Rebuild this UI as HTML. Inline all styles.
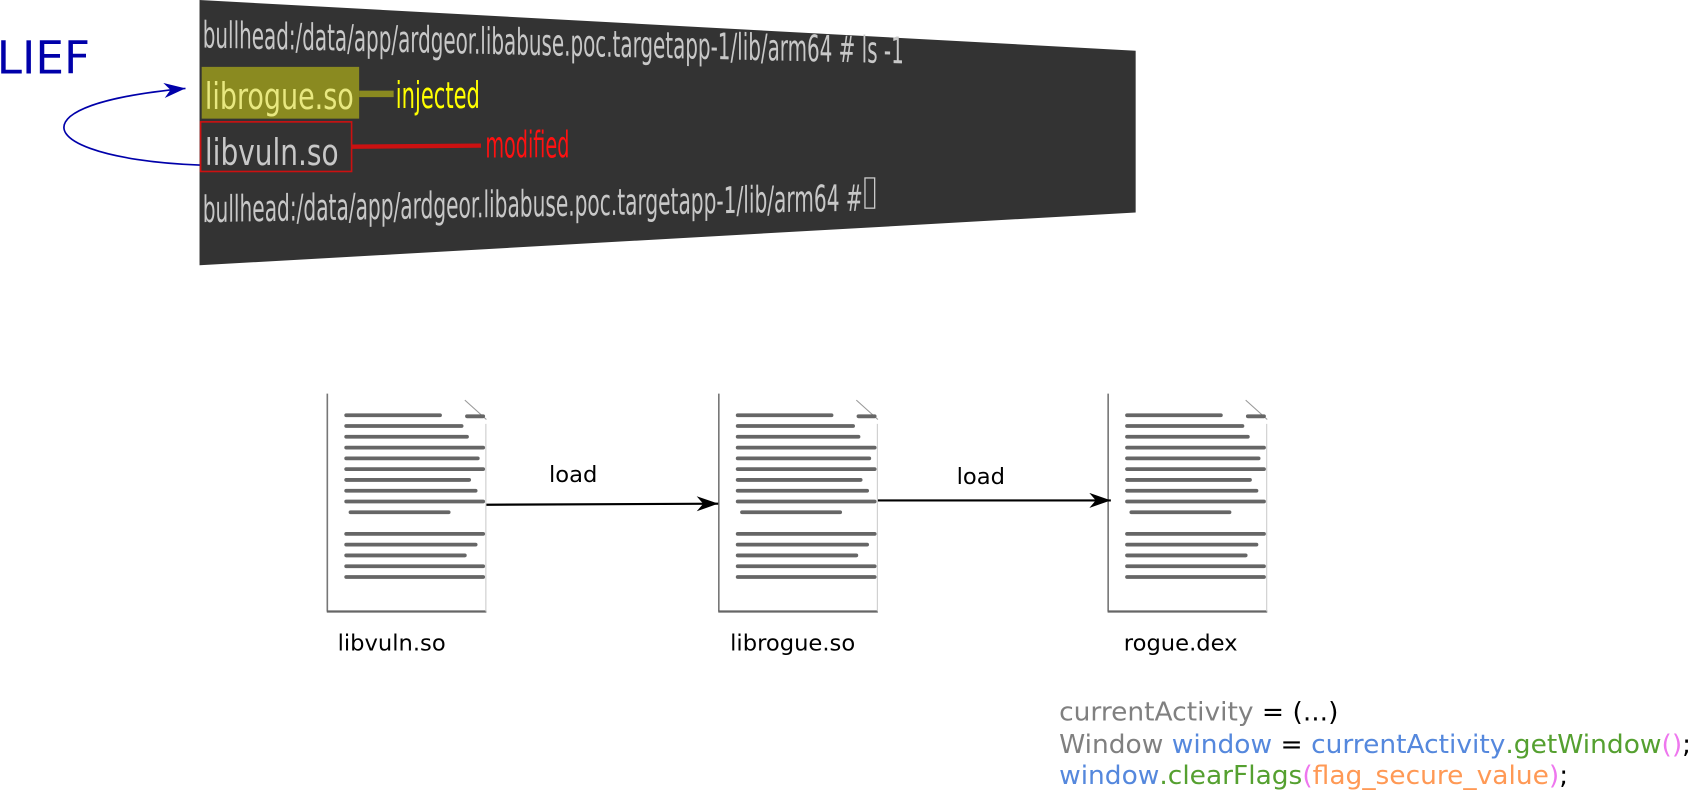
<!DOCTYPE html>
<html><head><meta charset="utf-8"><style>
html,body{margin:0;padding:0;background:#fff;width:1691px;height:795px;overflow:hidden}
</style></head><body>
<svg width="1691" height="795" viewBox="0 0 1691 795" xmlns="http://www.w3.org/2000/svg" font-family="DejaVu Sans, Liberation Sans, sans-serif">
<defs>
<g id="doc">
  <path d="M0,0 H120 L148,28 V202 H0 Z" fill="#fff"/>
  <line x1="0.5" y1="0" x2="0.5" y2="202" stroke="#777" stroke-width="1.5"/>
  <line x1="0" y1="202" x2="148" y2="202" stroke="#666" stroke-width="2"/>
  <line x1="147.5" y1="28" x2="147.5" y2="202" stroke="#ccc" stroke-width="1"/>
  <line x1="128" y1="6" x2="148" y2="24" stroke="#999" stroke-width="1"/>
  <g stroke="#666" stroke-width="3.5" stroke-linecap="round">
    <line x1="18" y1="20" x2="105" y2="20"/><line x1="130" y1="21" x2="145" y2="21"/>
    <line x1="18" y1="30" x2="125" y2="30"/>
    <line x1="18" y1="40" x2="130" y2="40"/>
    <line x1="18" y1="50" x2="145" y2="50"/>
    <line x1="18" y1="60" x2="140" y2="60"/>
    <line x1="18" y1="70" x2="145" y2="70"/>
    <line x1="18" y1="80" x2="132" y2="80"/>
    <line x1="18" y1="90" x2="138" y2="90"/>
    <line x1="18" y1="100" x2="145" y2="100"/>
    <line x1="22" y1="110" x2="113" y2="110"/>
    <line x1="18" y1="130" x2="145" y2="130"/>
    <line x1="18" y1="140" x2="138" y2="140"/>
    <line x1="18" y1="150" x2="128" y2="150"/>
    <line x1="18" y1="160" x2="145" y2="160"/>
    <line x1="18" y1="170" x2="145" y2="170"/>
  </g>
</g>
<marker id="bh" markerWidth="20" markerHeight="14" refX="20" refY="7" orient="auto" markerUnits="userSpaceOnUse"><path d="M0,0 L20,7 L0,14 L6,7 Z" fill="#000"/></marker>
<marker id="lh" markerWidth="20" markerHeight="14" refX="20" refY="7" orient="auto" markerUnits="userSpaceOnUse"><path d="M0,0 L20,7 L0,14 L6,7 Z" fill="#0000aa"/></marker>
</defs>
<g transform="scale(1.0785)">
<polygon points="185,0 1053,47 1053,197 185,246" fill="#333"/>
<rect x="187" y="62" width="146" height="48" fill="#8a8a20"/>
<line x1="333" y1="87" x2="365" y2="87" stroke="#8a8a20" stroke-width="6"/>
<rect x="186" y="113" width="140" height="46" fill="none" stroke="#cc1111" stroke-width="1.5"/>
<line x1="326" y1="136" x2="446" y2="135" stroke="#cc1111" stroke-width="4"/>
<g font-family="DejaVu Sans Condensed, sans-serif" fill="#c8c8c8">
  <text x="0" y="0" font-size="34" textLength="650" lengthAdjust="spacingAndGlyphs" transform="translate(188,44) skewY(1.3)">bullhead:/data/app/ardgeor.libabuse.poc.targetapp-1/lib/arm64 # ls -1</text>
  <text x="190" y="101" font-size="34" fill="#e8e880" textLength="138" lengthAdjust="spacingAndGlyphs">librogue.so</text>
  <text x="190" y="153" font-size="34" textLength="124" lengthAdjust="spacingAndGlyphs">libvuln.so</text>
  <text x="0" y="0" font-size="34" textLength="612" lengthAdjust="spacingAndGlyphs" transform="translate(188,206) skewY(-1)">bullhead:/data/app/ardgeor.libabuse.poc.targetapp-1/lib/arm64 #</text>
</g>
<rect x="802" y="165" width="9" height="28" fill="none" stroke="#ccc" stroke-width="1.2"/>
<text x="367" y="100" font-size="34" fill="#ffff00" font-family="DejaVu Sans Condensed, sans-serif" textLength="78" lengthAdjust="spacingAndGlyphs">injected</text>
<text x="450" y="146" font-size="34" fill="#ff1111" font-family="DejaVu Sans Condensed, sans-serif" textLength="78" lengthAdjust="spacingAndGlyphs">modified</text>
<text x="-3" y="68" font-size="42" fill="#0000aa">LIEF</text>
<path d="M185,153 C100,150 40,130 65,108 C85,92 140,85 172,82" fill="none" stroke="#0000aa" stroke-width="1.5" marker-end="url(#lh)"/>

<use href="#doc" x="303" y="365"/>
<use href="#doc" x="666" y="365"/>
<use href="#doc" x="1027" y="365"/>
<line x1="451" y1="468" x2="666" y2="467" stroke="#000" stroke-width="2" marker-end="url(#bh)"/>
<line x1="814" y1="464" x2="1030" y2="464" stroke="#000" stroke-width="2" marker-end="url(#bh)"/>
<text x="509" y="447" font-size="21">load</text>
<text x="887" y="449" font-size="21">load</text>
<text x="313" y="603" font-size="21">libvuln.so</text>
<text x="677" y="603" font-size="21">librogue.so</text>
<text x="1042" y="603" font-size="21">rogue.dex</text>

<g font-size="24">
<text x="982" y="668" textLength="259" lengthAdjust="spacingAndGlyphs"><tspan fill="#808080">currentActivity</tspan><tspan fill="#000"> = (...)</tspan></text>
<text x="982" y="698" textLength="586" lengthAdjust="spacingAndGlyphs"><tspan fill="#808080">Window </tspan><tspan fill="#5588dd">window</tspan><tspan fill="#000"> = </tspan><tspan fill="#5588dd">currentActivity</tspan><tspan fill="#55a030">.getWindow</tspan><tspan fill="#ee77ee">()</tspan><tspan fill="#000">;</tspan></text>
<text x="982" y="727" textLength="472" lengthAdjust="spacingAndGlyphs"><tspan fill="#5588dd">window</tspan><tspan fill="#55a030">.clearFlags</tspan><tspan fill="#ee77ee">(</tspan><tspan fill="#ff9955">flag_secure_value</tspan><tspan fill="#ee77ee">)</tspan><tspan fill="#000">;</tspan></text>
</g>
</g>
</svg>
</body></html>
